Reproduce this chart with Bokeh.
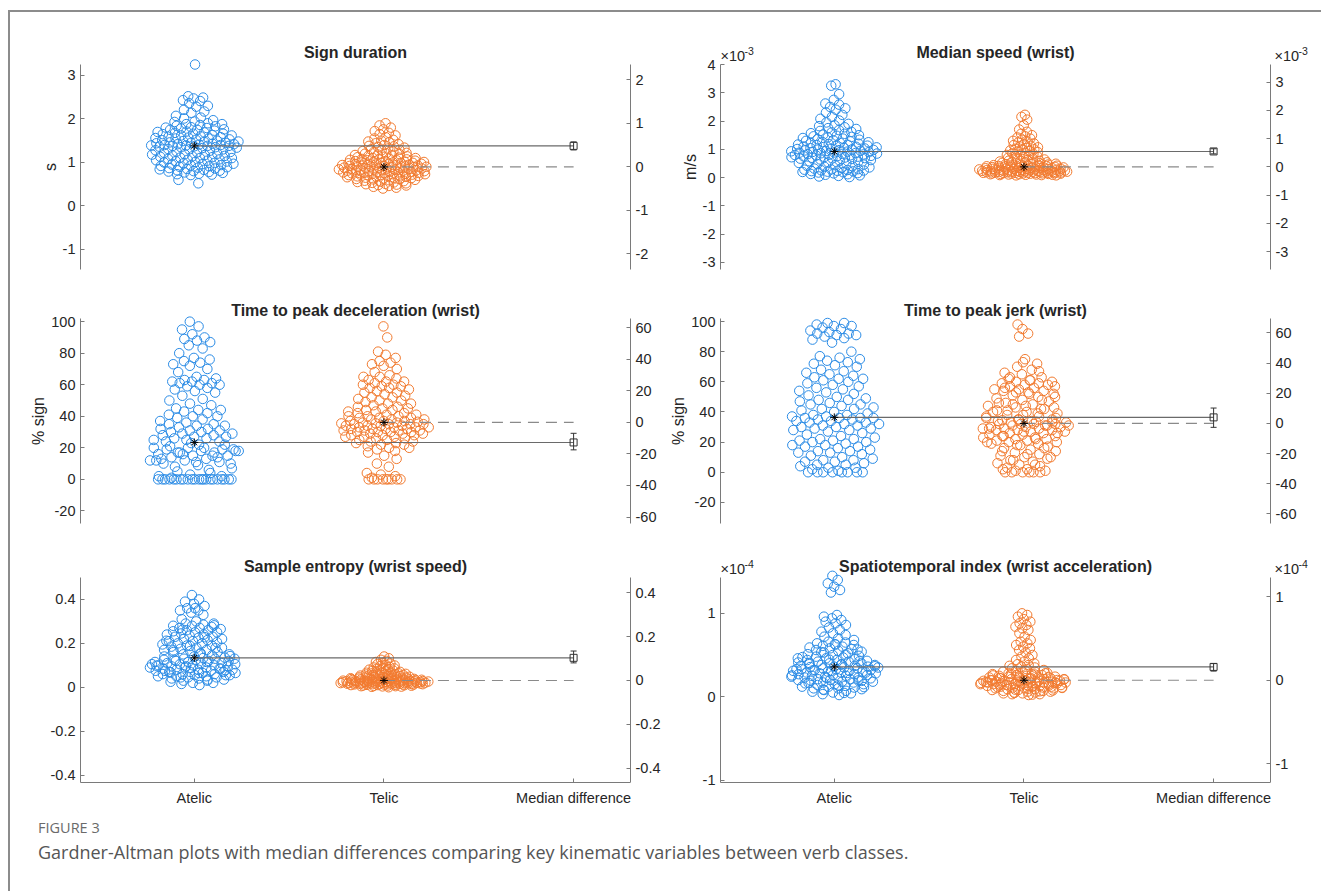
import numpy as np
from bokeh.plotting import figure
from bokeh.models import Range1d, LinearAxis, FixedTicker, Label
from bokeh.layouts import row, column
from bokeh.embed import file_html
from bokeh.resources import INLINE

FONT = "Liberation Sans"
CAP_FONT = "Open Sans"
BLUE = "#2b8ce6"
ORANGE = "#f27b30"
AXC = "#7a7a7a"
TXT = "#262626"

categories = ["Atelic", "Telic", "Median difference"]
titles = ["Sign duration", "Median speed (wrist)",
          "Time to peak deceleration (wrist)", "Time to peak jerk (wrist)",
          "Sample entropy (wrist speed)", "Spatiotemporal index (wrist acceleration)"]
ylabels = ["s", "m/s", "% sign", "% sign", "", ""]
exponents = [None, "-3", None, None, None, "-4"]

# ---- values (speed in 1e-3 m/s, spatiotemporal index in 1e-4) ----
sd_atelic = [3.25, 2.52, 2.49, 2.47, 2.43, 2.41, 2.36, 2.30, 2.28, 2.21, 2.17, 2.14, 2.07, 2.03, 2.01,
             1.97, 1.94, 1.93, 1.90, 1.88, 1.88, 1.86, 1.84, 1.83, 1.81, 1.80, 1.79, 1.78, 1.76, 1.75,
             1.75, 1.73, 1.71, 1.70, 1.69, 1.68, 1.66, 1.66, 1.65, 1.63, 1.62, 1.62, 1.60, 1.59, 1.58,
             1.57, 1.56, 1.55, 1.55, 1.53, 1.52, 1.51, 1.50, 1.49, 1.48, 1.47, 1.46, 1.45, 1.45, 1.44,
             1.43, 1.42, 1.42, 1.41, 1.40, 1.40, 1.39, 1.39, 1.38, 1.38, 1.38, 1.37, 1.36, 1.35, 1.35,
             1.34, 1.33, 1.31, 1.30, 1.30, 1.28, 1.27, 1.25, 1.24, 1.23, 1.22, 1.20, 1.19, 1.18, 1.17,
             1.16, 1.15, 1.14, 1.13, 1.12, 1.11, 1.10, 1.10, 1.08, 1.07, 1.06, 1.05, 1.04, 1.03, 1.02,
             1.01, 1.00, 0.99, 0.98, 0.97, 0.96, 0.95, 0.94, 0.93, 0.92, 0.91, 0.90, 0.89, 0.88, 0.87,
             0.86, 0.85, 0.84, 0.83, 0.82, 0.81, 0.80, 0.79, 0.78, 0.77, 0.76, 0.74, 0.73, 0.72, 0.71,
             0.60, 0.52]
sd_telic = [1.90, 1.85, 1.80, 1.76, 1.72, 1.68, 1.65, 1.62, 1.58, 1.55, 1.52, 1.50, 1.48, 1.46, 1.44,
            1.42, 1.40, 1.38, 1.37, 1.35, 1.34, 1.32, 1.30, 1.29, 1.28, 1.26, 1.25, 1.24, 1.22, 1.21,
            1.20, 1.19, 1.18, 1.17, 1.16, 1.15, 1.14, 1.13, 1.12, 1.11, 1.10, 1.10, 1.09, 1.08, 1.07,
            1.07, 1.06, 1.05, 1.05, 1.04, 1.03, 1.03, 1.02, 1.01, 1.01, 1.00, 1.00, 0.99, 0.99, 0.98,
            0.98, 0.97, 0.97, 0.96, 0.96, 0.95, 0.95, 0.94, 0.94, 0.93, 0.93, 0.92, 0.92, 0.91, 0.91,
            0.90, 0.90, 0.89, 0.89, 0.88, 0.88, 0.87, 0.87, 0.86, 0.86, 0.85, 0.85, 0.84, 0.84, 0.83,
            0.83, 0.82, 0.82, 0.81, 0.81, 0.80, 0.80, 0.79, 0.79, 0.78, 0.78, 0.77, 0.77, 0.76, 0.76,
            0.75, 0.75, 0.74, 0.74, 0.73, 0.73, 0.72, 0.72, 0.71, 0.71, 0.70, 0.70, 0.69, 0.69, 0.68,
            0.67, 0.67, 0.66, 0.65, 0.65, 0.64, 0.63, 0.62, 0.62, 0.61, 0.60, 0.59, 0.58, 0.57, 0.56,
            0.55, 0.54, 0.53, 0.52, 0.51, 0.50, 0.49, 0.48, 0.47, 0.46, 0.44, 0.42, 0.40]

ms_atelic = [3.30, 3.25, 2.95, 2.75, 2.62, 2.58, 2.50, 2.45, 2.40, 2.30, 2.22, 2.15, 2.08, 2.02, 1.95,
             1.90, 1.85, 1.82, 1.78, 1.75, 1.72, 1.68, 1.65, 1.62, 1.60, 1.57, 1.55, 1.52, 1.50, 1.48,
             1.46, 1.44, 1.42, 1.40, 1.38, 1.36, 1.34, 1.32, 1.30, 1.28, 1.26, 1.25, 1.23, 1.22, 1.20,
             1.19, 1.17, 1.16, 1.15, 1.13, 1.12, 1.10, 1.09, 1.08, 1.07, 1.05, 1.04, 1.03, 1.02, 1.01,
             1.00, 0.99, 0.98, 0.97, 0.96, 0.95, 0.94, 0.93, 0.92, 0.91, 0.90, 0.89, 0.88, 0.87, 0.86,
             0.85, 0.84, 0.83, 0.82, 0.81, 0.80, 0.79, 0.78, 0.77, 0.76, 0.75, 0.74, 0.73, 0.72, 0.71,
             0.70, 0.69, 0.68, 0.67, 0.66, 0.64, 0.62, 0.60, 0.58, 0.56, 0.54, 0.52, 0.50, 0.48, 0.46,
             0.44, 0.42, 0.40, 0.38, 0.36, 0.34, 0.32, 0.30, 0.29, 0.28, 0.27, 0.26, 0.25, 0.24, 0.23,
             0.22, 0.21, 0.20, 0.19, 0.18, 0.16, 0.15, 0.13, 0.12, 0.10, 0.08, 0.06, 0.04, 0.02]
ms_telic = [2.22, 2.15, 2.05, 1.85, 1.70, 1.62, 1.55, 1.50, 1.46, 1.42, 1.38, 1.34, 1.30, 1.27, 1.24,
            1.21, 1.18, 1.15, 1.12, 1.10, 1.07, 1.05, 1.02, 1.00, 0.98, 0.96, 0.94, 0.92, 0.90, 0.88,
            0.86, 0.84, 0.82, 0.80, 0.78, 0.76, 0.74, 0.72, 0.70, 0.68, 0.66, 0.64, 0.62, 0.60, 0.59,
            0.58, 0.57, 0.56, 0.55, 0.54, 0.53, 0.52, 0.51, 0.50, 0.49, 0.48, 0.47, 0.46, 0.45, 0.44,
            0.43, 0.43, 0.42, 0.42, 0.41, 0.41, 0.40, 0.40, 0.39, 0.39, 0.38, 0.38, 0.37, 0.37, 0.36,
            0.36, 0.35, 0.35, 0.34, 0.34, 0.33, 0.33, 0.32, 0.32, 0.31, 0.31, 0.30, 0.30, 0.29, 0.29,
            0.28, 0.28, 0.27, 0.27, 0.26, 0.26, 0.25, 0.25, 0.25, 0.24, 0.24, 0.24, 0.23, 0.23, 0.23,
            0.22, 0.22, 0.22, 0.21, 0.21, 0.21, 0.20, 0.20, 0.20, 0.19, 0.19, 0.19, 0.18, 0.18, 0.18,
            0.17, 0.17, 0.17, 0.16, 0.16, 0.16, 0.15, 0.15, 0.15, 0.14, 0.14, 0.14, 0.13, 0.13, 0.12,
            0.12, 0.11, 0.11, 0.10, 0.10, 0.09, 0.09, 0.08, 0.08]

tpd_atelic = [0, 0, 0, 0, 0, 0, 0, 0, 0, 0, 0, 0, 0, 0, 0, 0, 0, 0, 0, 0, 0, 0, 1, 2, 3, 2, 4,
              5, 7, 9, 10, 11, 12, 12, 13, 14, 15, 15, 16, 17, 17, 18, 18, 19, 19, 20, 20,
              6, 8, 10, 11, 13, 14, 16, 18, 20, 21, 22, 23, 12, 15, 17, 19, 22,
              24, 24, 25, 25, 26, 26, 27, 27, 28, 28, 29, 29, 30, 30, 31, 31, 32, 32, 33, 34,
              34, 35, 35, 36, 37, 38, 39, 40, 40, 41, 42, 43, 44, 44, 45, 47, 48, 50, 51, 53,
              55, 56, 57, 58, 59, 60, 60, 61, 61, 62, 62, 63, 63, 64, 65, 68, 70, 72, 73, 74,
              75, 76, 77, 80, 83, 85, 87, 88, 89, 90, 92, 95, 97, 100]
tpd_telic = [0, 0, 0, 0, 0, 0, 0, 0, 0, 1, 2, 3, 4, 8, 10, 13,
             15, 17, 18, 19, 20, 20, 21, 22, 22, 23, 23, 24, 24, 25, 25, 26, 26, 27, 27, 27,
             28, 28, 28, 29, 29, 29, 30, 30, 30, 30, 31, 31, 31, 31, 32, 32, 32, 32, 33, 33,
             33, 33, 34, 34, 34, 34, 35, 35, 35, 35, 35.5, 35.5, 36, 36,
             36.5, 37, 37, 37, 38, 38, 38, 39, 39, 39, 40, 40, 40, 41, 41, 42, 42, 43, 43, 44,
             44, 45, 45, 46, 46, 47, 48, 48, 49, 50, 50, 51, 52, 52, 53, 54, 55, 55, 56, 57,
             58, 58, 59, 59, 60, 60, 61, 62, 62, 63, 64, 65, 65, 66, 68, 70, 72, 73, 74, 75,
             77, 79, 81, 90, 97]

tpj_atelic = [0, 0, 0, 0, 0, 0, 0, 0, 1, 2, 3, 3, 4, 5, 5, 6, 7, 7, 8, 8, 9, 10, 11, 12, 13, 13,
              14, 14, 15, 16, 17, 17, 18, 18, 19, 20, 20, 21, 21, 22, 22, 23, 24, 25, 26, 27,
              28, 28, 29, 29, 30, 30, 31, 31, 32, 32, 33, 33, 34, 34, 35, 35, 36, 36, 36, 36,
              37, 37, 38, 38, 39, 40, 41, 42, 42, 43, 44, 45, 45, 46, 47, 48, 48, 49, 50, 51,
              52, 53, 54, 55, 56, 57, 58, 59, 60, 61, 62, 62, 63, 64, 65, 66, 67, 68, 70, 71,
              72, 73, 74, 75, 76, 77, 80, 86, 88, 89, 90, 91, 91, 92, 92, 93, 94, 95, 96, 97,
              97, 98, 99, 99]
tpj_telic = [0, 0, 0, 0, 0, 0, 1, 1, 2, 3, 4, 5, 6, 7, 8, 9, 10, 11, 12, 13, 14, 15, 16, 17, 18, 19,
             19, 20, 20, 21, 21, 22, 22, 23, 23, 24, 24, 25, 25, 26, 26, 27, 27, 28, 28, 28,
             29, 29, 29, 30, 30, 30, 31, 31, 31, 32, 32, 32, 32,
             2, 5, 8, 10, 12, 14, 16, 18, 20, 22, 24, 26, 27, 29, 31,
             33, 33, 34, 34, 35, 35, 36, 37, 38, 39, 40, 41, 42, 43, 44, 45, 46, 47, 48, 49,
             50, 51, 52, 53, 54, 54, 55, 55, 56, 57, 58, 58, 59, 59, 60, 60, 61, 62, 63, 65,
             66, 68, 70, 72, 75, 90, 92, 95, 98,
             33.5, 34.5, 36, 38, 40, 42, 45, 50, 52, 56,
             33, 35, 37, 39, 41, 43, 44, 46, 48, 53, 57, 61, 63, 67, 73]

se_atelic = [0.010, 0.015, 0.020, 0.020, 0.025, 0.030, 0.030, 0.035, 0.040, 0.040, 0.045, 0.045,
             0.050, 0.050, 0.050, 0.055, 0.055, 0.060, 0.060, 0.060, 0.065, 0.065, 0.070, 0.070,
             0.070, 0.075, 0.075, 0.080, 0.080, 0.080, 0.085, 0.085, 0.090, 0.090, 0.090, 0.095,
             0.095, 0.100, 0.100, 0.100, 0.105, 0.105, 0.110, 0.110, 0.110, 0.115, 0.115, 0.120,
             0.120, 0.120, 0.125, 0.125, 0.130, 0.130, 0.130, 0.133, 0.068, 0.078, 0.088, 0.098,
             0.035, 0.045, 0.055, 0.065, 0.075, 0.085, 0.095, 0.105, 0.115, 0.125,
             0.135, 0.140, 0.140, 0.145, 0.150, 0.150, 0.155, 0.160, 0.160, 0.165, 0.170, 0.170,
             0.175, 0.180, 0.180, 0.185, 0.190, 0.190, 0.195, 0.200, 0.200, 0.205, 0.210, 0.210,
             0.215, 0.220, 0.220, 0.225, 0.230, 0.230, 0.235, 0.240, 0.240, 0.245, 0.250, 0.250,
             0.255, 0.260, 0.260, 0.265, 0.270, 0.270, 0.275, 0.280, 0.280, 0.285, 0.290, 0.290,
             0.300, 0.310, 0.330, 0.340, 0.350, 0.350, 0.360, 0.370, 0.380, 0.390, 0.400, 0.420,
             0.142, 0.152, 0.168, 0.178, 0.188, 0.212, 0.228, 0.262, 0.282, 0.360]
se_telic = [0.000, 0.002, 0.003, 0.004, 0.005, 0.005, 0.006, 0.007, 0.008, 0.008, 0.009, 0.010,
            0.010, 0.011, 0.011, 0.012, 0.012, 0.013, 0.013, 0.014, 0.014, 0.015, 0.015, 0.015,
            0.016, 0.016, 0.016, 0.017, 0.017, 0.017, 0.018, 0.018, 0.018, 0.019, 0.019, 0.019,
            0.020, 0.020, 0.020, 0.021, 0.021, 0.021, 0.022, 0.022, 0.022, 0.023, 0.023, 0.023,
            0.024, 0.024, 0.024, 0.025, 0.025, 0.025, 0.026, 0.026, 0.026, 0.027, 0.027, 0.027,
            0.028, 0.028, 0.028, 0.029, 0.029, 0.029, 0.030, 0.030, 0.030, 0.031,
            0.032, 0.032, 0.033, 0.033, 0.034, 0.034, 0.035, 0.035, 0.036, 0.036, 0.037, 0.037,
            0.038, 0.038, 0.039, 0.039, 0.040, 0.040, 0.041, 0.042, 0.043, 0.044, 0.045, 0.045,
            0.046, 0.047, 0.048, 0.049, 0.050, 0.051, 0.052, 0.053, 0.054, 0.055, 0.056, 0.057,
            0.058, 0.059, 0.060, 0.061, 0.062, 0.063, 0.064, 0.065, 0.066, 0.067, 0.068, 0.070,
            0.072, 0.074, 0.076, 0.078, 0.080, 0.082, 0.084, 0.086, 0.088, 0.090, 0.093, 0.096,
            0.099, 0.102, 0.105, 0.108, 0.111, 0.115, 0.120, 0.125, 0.132, 0.140]

st_atelic = [0.02, 0.03, 0.04, 0.05, 0.06, 0.07, 0.08, 0.09, 0.10, 0.10, 0.11, 0.12, 0.12, 0.13,
             0.14, 0.15, 0.15, 0.16, 0.17, 0.17, 0.18, 0.18, 0.19, 0.19, 0.20, 0.20, 0.21, 0.21,
             0.22, 0.22, 0.23, 0.23, 0.24, 0.24, 0.25, 0.25, 0.26, 0.26, 0.27, 0.27, 0.28, 0.28,
             0.29, 0.29, 0.30, 0.30, 0.31, 0.31, 0.32, 0.32, 0.33, 0.33, 0.34, 0.34, 0.35, 0.35,
             0.355, 0.29, 0.31, 0.33, 0.045, 0.085, 0.115, 0.135, 0.165, 0.195, 0.225, 0.255,
             0.285, 0.315,
             0.36, 0.36, 0.37, 0.37, 0.38, 0.38, 0.39, 0.39, 0.40, 0.40, 0.41, 0.42, 0.42, 0.43,
             0.44, 0.44, 0.45, 0.46, 0.46, 0.47, 0.48, 0.49, 0.50, 0.51, 0.52, 0.53, 0.54, 0.55,
             0.56, 0.57, 0.58, 0.59, 0.60, 0.61, 0.62, 0.63, 0.64, 0.65, 0.66, 0.68, 0.70, 0.72,
             0.74, 0.76, 0.78, 0.80, 0.83, 0.86, 0.88, 0.90, 0.92, 0.94, 0.96, 0.98, 1.25, 1.28,
             1.32, 1.36, 1.40, 1.45, 0.365, 0.385, 0.405, 0.425, 0.445, 0.475, 0.505, 0.535,
             0.565, 0.625]
st_telic = [0.02, 0.03, 0.03, 0.04, 0.04, 0.05, 0.05, 0.06, 0.06, 0.07, 0.07, 0.08, 0.08, 0.09,
            0.09, 0.10, 0.10, 0.10, 0.11, 0.11, 0.11, 0.12, 0.12, 0.12, 0.13, 0.13, 0.13, 0.14,
            0.14, 0.14, 0.15, 0.15, 0.15, 0.15, 0.16, 0.16, 0.16, 0.16, 0.17, 0.17, 0.17, 0.17,
            0.18, 0.18, 0.18, 0.18, 0.19, 0.19, 0.19, 0.19, 0.195, 0.195, 0.065, 0.085, 0.105,
            0.125, 0.145, 0.165, 0.185, 0.175, 0.025, 0.045, 0.075, 0.095, 0.115, 0.135, 0.155,
            0.165, 0.175, 0.185,
            0.20, 0.20, 0.20, 0.21, 0.21, 0.21, 0.22, 0.22, 0.22, 0.23, 0.23, 0.23, 0.24, 0.24,
            0.25, 0.25, 0.26, 0.26, 0.27, 0.27, 0.28, 0.28, 0.29, 0.30, 0.30, 0.31, 0.32, 0.33,
            0.34, 0.35, 0.36, 0.37, 0.38, 0.39, 0.40, 0.42, 0.44, 0.46, 0.48, 0.50, 0.53, 0.56,
            0.58, 0.60, 0.62, 0.64, 0.66, 0.68, 0.72, 0.76, 0.80, 0.82, 0.84, 0.86, 0.88, 0.90,
            0.93, 0.96, 0.98, 1.00, 0.205, 0.215, 0.225, 0.235, 0.245, 0.255, 0.265, 0.275,
            0.285, 0.31]

atelic_values = [sd_atelic, ms_atelic, tpd_atelic, tpj_atelic, se_atelic, st_atelic]
telic_values = [sd_telic, ms_telic, tpd_telic, tpj_telic, se_telic, st_telic]

medians_atelic = [1.38, 0.925, 23.4, 36.4, 0.134, 0.357]
medians_telic = [0.897, 0.38, 36.1, 32.4, 0.031, 0.197]
ci_low = [0.39, 0.46, -17.4, -2.6, 0.08, 0.11]
ci_high = [0.575, 0.64, -6.9, 10.2, 0.134, 0.20]

ylims = [(-1.46, 3.25), (-3.25, 4.0), (-28, 102), (-34, 102), (-0.434, 0.5), (-1.03, 1.43)]
left_ticks = [[-1, 0, 1, 2, 3], [-3, -2, -1, 0, 1, 2, 3, 4], [-20, 0, 20, 40, 60, 80, 100],
              [-20, 0, 20, 40, 60, 80, 100], [-0.4, -0.2, 0, 0.2, 0.4], [-1, 0, 1]]
right_ticks = [[-2, -1, 0, 1, 2], [-3, -2, -1, 0, 1, 2, 3], [-60, -40, -20, 0, 20, 40, 60],
               [-60, -40, -20, 0, 20, 40, 60], [-0.4, -0.2, 0, 0.2, 0.4], [-1, 0, 1]]

caption_head = "FIGURE 3"
caption_text = "Gardner-Altman plots with median differences comparing key kinematic variables between verb classes."

# ---- layout geometry (pixels) ----
AXIS_H = 205                 # drawn height of the y axes
AXIS_W = 550                 # drawn width between left and right axes (x 0.4 .. 3.3)
XLO, XHI = 0.4, 3.3
EXTRA_T = 22                 # frame room above the axes for titles / exponents
EXTRA_B = [22, 22, 0]        # frame room below the axes (keeps y labels centred on the axes)
COL_W = [654, 649]
COL_BL = [70, 56]
ROW_H = [282, 256, 262]
ROW_BT = [30, 2, 5]
ROW_BB = [3, 5, 30]
TITLE_UP = [12, 8, 11]


def swarm_offsets(vals, half_width=0.24):
    v = np.asarray(vals, float)
    n = len(v)
    q75, q25 = np.percentile(v, [75, 25])
    s = min(v.std(), (q75 - q25) / 1.34)
    if s <= 0:
        s = v.std()
    h = 0.9 * s * n ** -0.2
    d = np.exp(-0.5 * ((v[:, None] - v[None, :]) / h) ** 2).sum(1)
    w = half_width * (d / d.max()) ** 0.7
    k = np.mod(np.arange(1, n + 1) * 0.6180339887498949, 1.0)
    return w * (2 * k - 1)


def tick_text(ticks):
    return {t: f"{t:g}" for t in ticks}


def style_axis(ax, size="14.5px"):
    ax.axis_line_color = AXC
    ax.axis_line_width = 1
    ax.major_tick_line_color = AXC
    ax.minor_tick_line_color = None
    ax.major_tick_in = 4
    ax.major_tick_out = 0
    ax.major_label_text_font = FONT
    ax.major_label_text_font_size = size
    ax.major_label_text_color = TXT
    ax.major_label_standoff = 5
    ax.axis_label_text_font = FONT
    ax.axis_label_text_font_size = "16px"
    ax.axis_label_text_font_style = "normal"
    ax.axis_label_text_color = TXT
    ax.axis_label_standoff = 1


def make_panel(i, r, c):
    lo, hi = ylims[i]
    am, tm = medians_atelic[i], medians_telic[i]
    upp = (hi - lo) / AXIS_H
    top = hi + EXTRA_T * upp
    bot = lo - EXTRA_B[r] * upp
    frame_w = COL_W[c] - COL_BL[c]
    x_end = XLO + frame_w * (XHI - XLO) / AXIS_W
    p = figure(width=COL_W[c], height=ROW_H[r],
               x_range=Range1d(XLO, x_end), y_range=Range1d(bot, top),
               output_backend="svg", toolbar_location=None,
               min_border_left=COL_BL[c], min_border_right=0,
               min_border_top=ROW_BT[r], min_border_bottom=ROW_BB[r],
               outline_line_color=None, background_fill_color="white",
               border_fill_color="white")
    p.xgrid.visible = False
    p.ygrid.visible = False

    left = p.yaxis[0]
    left.ticker = FixedTicker(ticks=left_ticks[i])
    left.major_label_overrides = tick_text(left_ticks[i])
    left.bounds = (lo, hi)
    left.axis_label = ylabels[i] if ylabels[i] else None
    style_axis(left)

    p.extra_y_ranges = {"d": Range1d(bot - tm, top - tm)}
    right = LinearAxis(y_range_name="d", ticker=FixedTicker(ticks=right_ticks[i]),
                       bounds=(lo - tm, hi - tm), fixed_location=XHI)
    right.major_label_overrides = tick_text(right_ticks[i])
    style_axis(right)
    p.add_layout(right, "right")

    xa = p.xaxis[0]
    if r == 2:
        xa.ticker = FixedTicker(ticks=[1, 2, 3])
        xa.bounds = (XLO, XHI)
        xa.major_label_overrides = {1: categories[0], 2: categories[1], 3: categories[2]}
        style_axis(xa)
        xa.major_label_standoff = 7
    else:
        xa.visible = False

    av, tv = atelic_values[i], telic_values[i]
    p.scatter(1 + swarm_offsets(av), av, marker="circle", size=9.5,
              fill_color=None, line_color=BLUE, line_width=1)
    p.scatter(2 + swarm_offsets(tv), tv, marker="circle", size=9.5,
              fill_color=None, line_color=ORANGE, line_width=1)

    p.segment(x0=[1], y0=[am], x1=[3], y1=[am], line_color="#6a6a6a", line_width=1.1)
    p.segment(x0=[2], y0=[tm], x1=[3], y1=[tm], line_color="#8a8a8a", line_width=1.1,
              line_dash="11 7")
    p.scatter([1, 2], [am, tm], marker="asterisk", size=8, line_color="black", line_width=1)

    diff = am - tm
    p.segment(x0=[3], y0=[ci_low[i]], x1=[3], y1=[ci_high[i]], y_range_name="d",
              line_color="#333333", line_width=1)
    p.scatter([3, 3], [ci_low[i], ci_high[i]], marker="dash", size=6, line_color="#333333",
              line_width=1, y_range_name="d")
    p.scatter([3], [diff], marker="square", size=7, fill_color=None, line_color="#333333",
              line_width=1, y_range_name="d")

    p.add_layout(Label(x=(XLO + XHI) / 2, y=hi, y_offset=TITLE_UP[r], text=titles[i], text_font=FONT,
                       text_font_size="16px", text_font_style="bold", text_color=TXT,
                       text_align="center", text_baseline="middle"))

    if exponents[i]:
        for xx, xo in [(XLO, 0), (XHI, 4)]:
            p.add_layout(Label(x=xx, y=hi, x_offset=xo, y_offset=9, text="×10",
                               text_font=FONT, text_font_size="14.5px", text_color=TXT,
                               text_baseline="middle", text_align="left"))
            p.add_layout(Label(x=xx, y=hi, x_offset=xo + 24, y_offset=14, text=exponents[i],
                               text_font=FONT, text_font_size="10.5px", text_color=TXT,
                               text_baseline="middle", text_align="left"))
    return p


panels = []
for r in range(3):
    panels.append(row(make_panel(2 * r, r, 0), make_panel(2 * r + 1, r, 1)))

CAP_W, CAP_H = 1311, 79
cap = figure(width=CAP_W, height=CAP_H, x_range=Range1d(0, CAP_W), y_range=Range1d(0, CAP_H),
             output_backend="svg", toolbar_location=None, min_border=0,
             x_axis_location=None, y_axis_location=None, outline_line_color=None)
cap.xgrid.visible = False
cap.ygrid.visible = False
cap.add_layout(Label(x=27.5, y=CAP_H - 15, text=caption_head, text_font=CAP_FONT,
                     text_font_size="14.5px", text_color="#6a6a6a", text_baseline="middle"))
cap.add_layout(Label(x=27.5, y=CAP_H - 39, text=caption_text, text_font=CAP_FONT,
                     text_font_size="18px", text_color="#555555", text_baseline="middle"))

root = column(*panels, cap, margin=(10, 0, 0, 8),
              styles={"border-left": "2px solid #8c8c8c", "border-top": "2px solid #8c8c8c"})

with open("out.html", "w") as f:
    f.write(file_html(root, INLINE))
